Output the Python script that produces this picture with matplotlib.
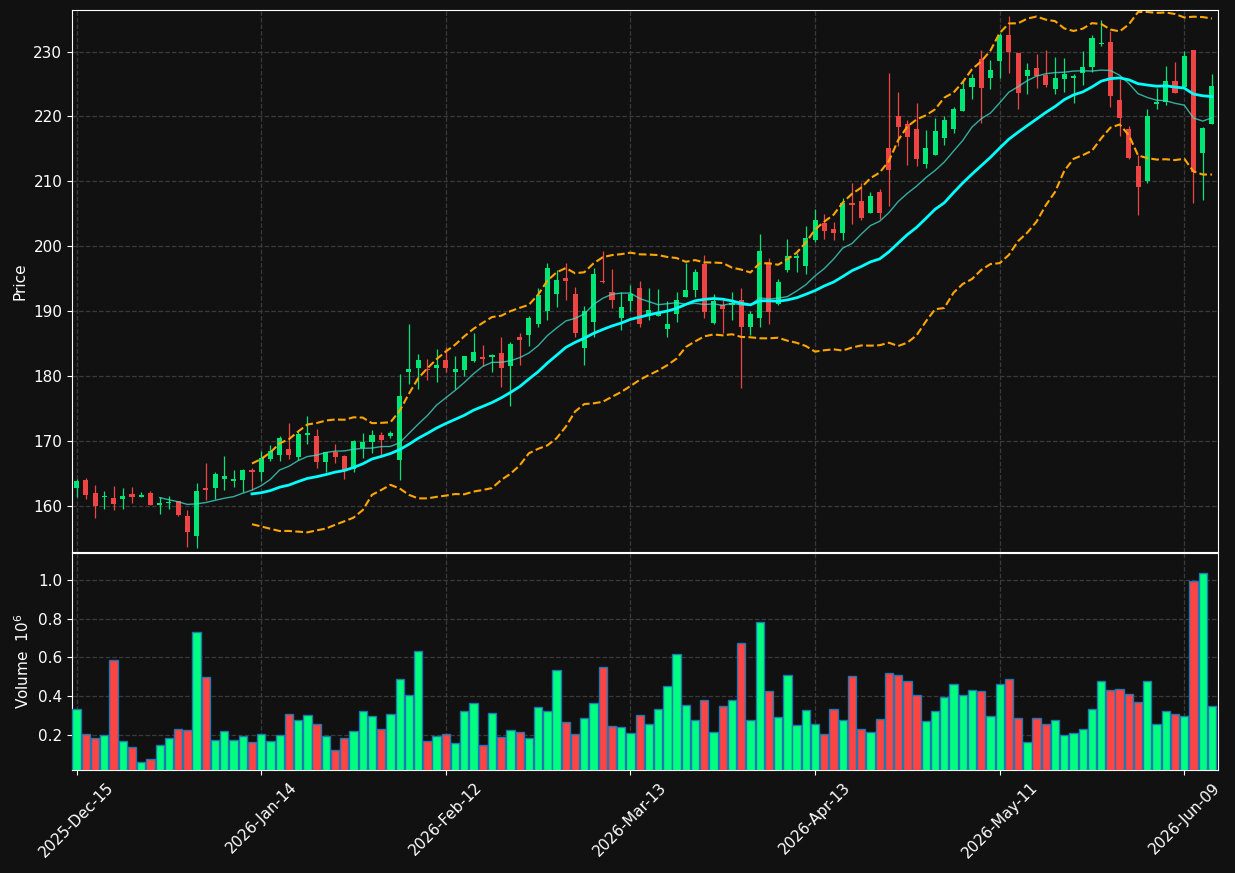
import numpy as np
import pandas as pd
import matplotlib
matplotlib.use("Agg")
import matplotlib.pyplot as plt

# daily OHLC (index 0 = 2025-Dec-15)
opens = [162.7, 164.0, 161.96, 161.4, 161.2, 161.1, 161.9, 161.3, 162.0, 160.2,
         160.4, 160.7, 158.45, 155.3, 162.7, 162.7, 164.2, 163.9, 164.0, 165.5,
         165.15, 167.3, 167.9, 168.8, 167.5, 171.0, 170.8, 166.7, 168.35, 167.7,
         165.7, 168.9, 169.8, 170.9, 170.7, 167.0, 180.6, 181.3, 181.0, 181.3,
         182.5, 180.6, 180.9, 182.4, 182.9, 183.0, 183.5, 181.5, 186.0, 186.3,
         188.1, 190.1, 192.6, 195.1, 192.7, 184.4, 188.4, 194.7, 192.9, 189.0,
         191.6, 193.5, 189.2, 189.3, 187.3, 189.6, 192.2, 193.2, 197.3, 188.2,
         190.9, 191.0, 191.7, 187.6, 188.9, 197.4, 191.1, 196.4, 198.2, 197.0,
         201.0, 203.6, 202.7, 202.1, 206.7, 207.0, 205.2, 208.4, 215.2, 220.15,
         218.8, 218.1, 212.7, 214.0, 216.75, 218.0, 220.9, 224.5, 228.9, 225.9,
         228.6, 232.5, 229.8, 226.3, 227.4, 226.4, 224.2, 225.7, 225.9, 226.7,
         227.6, 231.1, 231.4, 222.6, 218.0, 212.3, 210.1, 221.9, 222.3, 225.4,
         224.6, 230.2, 214.4, 218.8]
highs = [164.2, 164.3, 163.2, 162.3, 163.0, 162.8, 162.9, 162.1, 162.3, 161.4,
         161.6, 160.8, 159.4, 163.5, 166.6, 165.3, 167.7, 165.6, 165.7, 165.8,
         168.5, 169.4, 170.7, 172.8, 171.5, 173.9, 171.9, 168.3, 169.5, 167.8,
         170.2, 171.2, 171.7, 171.4, 171.6, 180.3, 188.0, 183.4, 182.6, 184.2,
         184.5, 183.1, 183.1, 186.6, 184.8, 183.4, 186.1, 185.3, 186.7, 189.3,
         193.5, 197.4, 196.4, 197.5, 193.8, 190.8, 196.6, 199.2, 196.5, 192.9,
         194.0, 194.6, 193.5, 193.4, 191.5, 193.0, 197.4, 196.5, 198.7, 192.7,
         191.7, 193.0, 193.5, 190.0, 201.9, 198.2, 195.0, 201.1, 198.9, 203.1,
         205.7, 204.9, 203.8, 207.4, 209.7, 209.7, 208.3, 208.8, 226.75, 223.7,
         219.5, 222.1, 217.9, 219.7, 220.1, 221.4, 225.4, 226.6, 230.2, 228.7,
         232.8, 235.5, 229.8, 228.3, 229.7, 230.3, 229.1, 229.0, 226.5, 230.1,
         232.5, 234.9, 233.2, 225.7, 218.6, 214.0, 221.1, 224.4, 227.8, 228.4,
         230.05, 230.2, 218.35, 226.5]
lows = [161.3, 161.1, 158.2, 159.6, 159.4, 159.5, 160.5, 161.3, 160.1, 158.7,
        159.6, 158.5, 153.7, 153.45, 160.9, 161.1, 162.5, 162.9, 162.2, 162.5,
        163.9, 166.9, 166.9, 167.2, 167.1, 169.5, 165.8, 165.3, 166.6, 164.1,
        165.3, 167.4, 168.2, 167.9, 170.5, 164.05, 178.8, 178.0, 179.4, 179.1,
        180.6, 178.0, 180.0, 182.1, 181.6, 180.6, 178.3, 175.4, 181.7, 184.6,
        187.5, 188.6, 190.6, 191.8, 186.1, 181.7, 186.1, 194.3, 190.5, 187.1,
        190.0, 187.5, 188.7, 189.2, 186.0, 188.3, 192.2, 192.2, 188.9, 188.05,
        186.6, 188.6, 178.2, 186.3, 187.6, 188.1, 190.97, 196.0, 196.1, 195.7,
        200.6, 201.2, 200.9, 200.9, 203.5, 204.05, 205.1, 204.2, 206.2, 215.4,
        212.5, 212.4, 212.1, 214.0, 215.6, 217.4, 220.9, 222.7, 219.0, 224.2,
        225.9, 226.7, 221.2, 223.5, 224.4, 224.5, 223.5, 223.8, 222.1, 224.8,
        226.9, 230.8, 221.4, 217.0, 213.5, 204.8, 209.8, 221.2, 221.7, 223.6,
        224.6, 206.6, 207.1, 218.8]
closes = [163.9, 161.75, 160.0, 161.5, 160.3, 161.6, 161.4, 161.7, 160.15, 160.5,
          160.6, 158.6, 156.0, 162.3, 162.4, 164.95, 164.6, 164.2, 165.5, 165.2,
          167.4, 168.4, 170.5, 167.9, 171.1, 171.3, 166.7, 168.3, 167.6, 165.5,
          170.0, 169.8, 170.9, 170.2, 171.3, 177.0, 181.1, 182.5, 180.9, 181.7,
          181.2, 181.1, 183.1, 183.7, 182.7, 183.2, 181.2, 184.9, 185.6, 188.9,
          192.5, 196.6, 194.8, 194.6, 186.6, 190.05, 195.8, 194.5, 191.8, 190.6,
          192.6, 188.1, 190.15, 189.8, 188.1, 191.7, 193.3, 196.05, 189.9, 191.6,
          190.4, 191.2, 187.6, 189.6, 199.3, 189.9, 194.5, 198.5, 198.5, 201.3,
          204.05, 202.4, 202.05, 206.7, 206.3, 204.4, 207.7, 205.2, 211.7, 218.35,
          216.8, 213.4, 215.2, 217.7, 219.4, 221.1, 224.2, 225.9, 224.4, 227.2,
          232.5, 229.9, 223.6, 227.1, 226.3, 224.8, 225.9, 226.5, 226.2, 227.6,
          232.1, 231.3, 223.1, 219.7, 213.6, 209.1, 220.1, 222.3, 225.4, 223.6,
          229.3, 211.5, 218.3, 224.7]
# volume in millions
volumes = [0.334, 0.205, 0.185, 0.197, 0.589, 0.169, 0.138, 0.061, 0.076, 0.148,
           0.185, 0.231, 0.226, 0.733, 0.501, 0.174, 0.221, 0.174, 0.195, 0.164,
           0.205, 0.169, 0.200, 0.308, 0.277, 0.303, 0.257, 0.195, 0.123, 0.185,
           0.221, 0.324, 0.298, 0.231, 0.308, 0.489, 0.406, 0.633, 0.169, 0.195,
           0.205, 0.159, 0.324, 0.365, 0.148, 0.314, 0.190, 0.226, 0.215, 0.185,
           0.344, 0.324, 0.535, 0.267, 0.205, 0.288, 0.365, 0.551, 0.246, 0.241,
           0.210, 0.303, 0.257, 0.334, 0.453, 0.618, 0.355, 0.277, 0.381, 0.215,
           0.350, 0.381, 0.675, 0.277, 0.783, 0.427, 0.293, 0.510, 0.252, 0.329,
           0.257, 0.205, 0.334, 0.277, 0.504, 0.231, 0.215, 0.283, 0.520, 0.510,
           0.479, 0.406, 0.272, 0.324, 0.396, 0.463, 0.406, 0.432, 0.427, 0.298,
           0.463, 0.489, 0.288, 0.164, 0.288, 0.257, 0.277, 0.200, 0.210, 0.231,
           0.334, 0.479, 0.432, 0.437, 0.412, 0.370, 0.479, 0.257, 0.324, 0.308,
           0.298, 0.995, 1.036, 0.350]
tick_pos = [0, 20, 40, 60, 80, 100, 120]
tick_labels = ['2025-Dec-15', '2026-Jan-14', '2026-Feb-12', '2026-Mar-13',
               '2026-Apr-13', '2026-May-11', '2026-Jun-09']

bg = '#111111'
up_c, dn_c = '#00e676', '#ef4444'
vup_c, vdn_c = '#00ff80', '#ff4444'

df = pd.DataFrame({'open': opens, 'high': highs, 'low': lows,
                   'close': closes, 'volume': volumes})
x = np.arange(len(df))
up = df['close'] >= df['open']

ma10 = df['close'].rolling(10).mean()
ma20 = df['close'].rolling(20).mean()
sd20 = df['close'].rolling(20).std(ddof=0)
bb_up = ma20 + 2 * sd20
bb_lo = ma20 - 2 * sd20

fig = plt.figure(figsize=(12.35, 8.73), dpi=100, facecolor=bg)
ax = fig.add_axes([0.0583, 0.3677, 0.9279, 0.6208])
axv = fig.add_axes([0.0583, 0.118, 0.9279, 0.2486], sharex=ax)

for a in (ax, axv):
    a.set_facecolor(bg)
    for s in a.spines.values():
        s.set_color('white')
    a.tick_params(colors='white', labelsize=11)
    a.grid(True, color='#3a3a3a', linestyle='--', linewidth=0.9)
    a.set_axisbelow(True)

# candles
cols = np.where(up, up_c, dn_c)
ax.vlines(x, df['low'], df['high'], colors=cols, linewidth=0.9, zorder=2)
body_lo = np.minimum(df['open'], df['close'])
body_h = np.maximum(np.abs(df['close'] - df['open']), 0.15)
ax.bar(x, body_h, bottom=body_lo, width=0.55, color=cols, linewidth=0, zorder=3)

ax.plot(x, ma10, color='#40e0d0', linewidth=1.0, alpha=0.75, zorder=4)
ax.plot(x, ma20, color='#00ffff', linewidth=2.0, zorder=4)
ax.plot(x, bb_up, color='orange', linestyle='--', linewidth=1.5, zorder=4)
ax.plot(x, bb_lo, color='orange', linestyle='--', linewidth=1.5, zorder=4)

ax.set_ylim(152.9, 236.4)
ax.set_yticks(np.arange(160, 231, 10))
ax.set_ylabel('Price', color='white', fontsize=11)
ax.tick_params(axis='x', labelbottom=False, length=0)

# volume
vcols = np.where(up, vup_c, vdn_c)
axv.bar(x, df['volume'], width=0.9, color=vcols, edgecolor='#1f77b4',
        linewidth=1.0, zorder=3)
axv.set_ylim(0.3 * df['volume'].min(), 1.1 * df['volume'].max())
axv.set_yticks([0.2, 0.4, 0.6, 0.8, 1.0])
axv.set_ylabel('Volume  $10^{6}$', color='white', fontsize=11)

axv.set_xlim(-0.5, 123.65)
axv.set_xticks(tick_pos)
axv.set_xticklabels(tick_labels, rotation=45, ha='center')

fig.savefig('out.png', dpi=100, facecolor=bg)
